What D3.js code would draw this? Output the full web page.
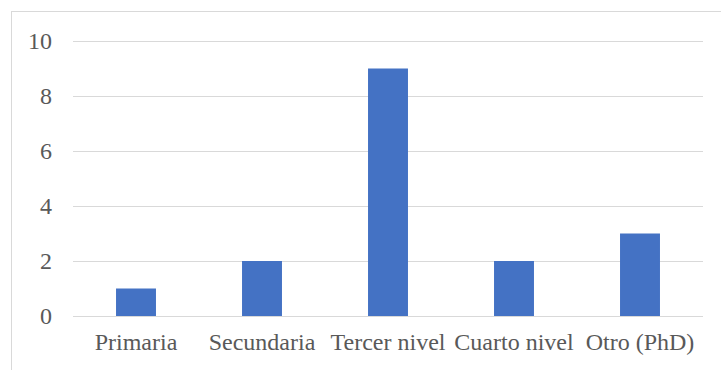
<!DOCTYPE html>
<html>
<head>
<meta charset="utf-8">
<script src="https://cdn.jsdelivr.net/npm/d3@7"></script>
<style>
  html, body { margin: 0; padding: 0; background: #ffffff; }
  svg { display: block; }
</style>
</head>
<body>
<svg id="chart" width="721" height="370"></svg>
<script>
// Nivel de estudios: número de personas por categoría
const categories = ["Primaria", "Secundaria", "Tercer nivel", "Cuarto nivel", "Otro (PhD)"];
const values = [1, 2, 9, 2, 3];
const yTicks = [0, 2, 4, 6, 8, 10];

const svg = d3.select("#chart");
const W = 721, H = 370;
const plot = { left: 73, right: 703, top: 41, bottom: 316 };
const labelFont = "Times New Roman, Liberation Serif, serif";

// chart frame
svg.append("rect")
  .attr("x", 11.5).attr("y", 11.5)
  .attr("width", W + 10).attr("height", H + 10)
  .attr("fill", "none").attr("stroke", "#d9d9d9").attr("stroke-width", 1);

const x = d3.scaleBand().domain(categories).range([plot.left, plot.right]).padding(0);
const y = d3.scaleLinear().domain([0, 10]).range([plot.bottom, plot.top]);
const barW = x.bandwidth() * 0.317;

// gridlines
yTicks.forEach(t => {
  const yy = Math.round(y(t)) + 0.5;
  svg.append("line")
    .attr("x1", plot.left).attr("x2", plot.right)
    .attr("y1", yy).attr("y2", yy)
    .attr("stroke", "#d9d9d9").attr("stroke-width", 1);
});

// bars
values.forEach((v, i) => {
  svg.append("rect")
    .attr("x", x(categories[i]) + (x.bandwidth() - barW) / 2)
    .attr("y", y(v))
    .attr("width", barW)
    .attr("height", y(0) - y(v))
    .attr("fill", "#4472c4");
});

// value axis labels
yTicks.forEach(t => {
  svg.append("text")
    .attr("x", plot.left - 21)
    .attr("y", y(t) + 8)
    .attr("text-anchor", "end")
    .style("font-family", labelFont)
    .style("font-size", "24px")
    .style("fill", "#595959")
    .text(String(t));
});

// category labels
categories.forEach(c => {
  svg.append("text")
    .attr("x", x(c) + x.bandwidth() / 2)
    .attr("y", 350)
    .attr("text-anchor", "middle")
    .style("font-family", labelFont)
    .style("font-size", "24px")
    .style("fill", "#595959")
    .text(c);
});
</script>
</body>
</html>
